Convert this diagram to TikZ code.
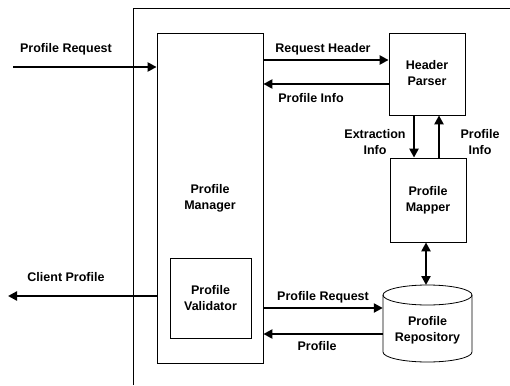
\documentclass[tikz,border=0pt]{standalone}
\usepackage{fontspec}
\setmainfont{Liberation Sans}
\usetikzlibrary{arrows.meta}
\begin{document}
\begin{tikzpicture}[x=1pt,y=-1pt,
  font=\fontsize{12.5}{16}\selectfont\bfseries,
  box/.style={draw, line width=0.8pt, rectangle, inner sep=0pt, align=center},
  arr/.style={line width=2.8pt, -{Triangle[length=9pt,width=9pt]}},
  darr/.style={line width=2.8pt, {Triangle[length=9pt,width=9pt]}-{Triangle[length=9pt,width=9pt]}},
  lbl/.style={inner sep=0pt, align=center}]
\useasboundingbox (0,0) rectangle (510,385);
% outer frame
\draw[line width=0.8pt] (133,385) -- (133,8) -- (510,8);
% boxes
\node[box, minimum width=106pt, minimum height=330pt] (mgr) at (210,198) {Profile\\Manager};
\node[box, minimum width=81pt, minimum height=80pt] (val) at (210.5,298) {Profile\\Validator};
\node[box, minimum width=76pt, minimum height=82pt] (hp) at (427,74) {\raisebox{-4pt}{\begin{tabular}{@{}c@{}}Header\\Parser\end{tabular}}};
\node[box, minimum width=76pt, minimum height=84pt] (mm) at (428,200) {\raisebox{-3pt}{\begin{tabular}{@{}c@{}}Profile\\Mapper\end{tabular}}};
% repository cylinder
\node[rectangle, inner sep=0pt, minimum width=89pt, minimum height=77pt] (repo) at (427.5,323.5) {};
\draw[line width=0.8pt] (427.5,295) ellipse [x radius=44.5pt, y radius=10pt];
\draw[line width=0.8pt] (383,295) -- (383,352) arc[start angle=180, end angle=360, x radius=44.5pt, y radius=10pt] -- (472,295);
\node[lbl] (repotext) at (427.5,330) {Profile\\Repository};
% free ends
\coordinate (in0) at (13,67);
\coordinate (out0) at (8,296);
% connectors
\draw[arr] (in0) -- (mgr.west |- in0);
\node[lbl] (l1) at (66,49) {Profile Request};
\draw[arr] (mgr.east |- 0,60) -- (hp.west |- 0,60);
\node[lbl] (l2) at (323,49) {Request Header};
\draw[arr] (hp.west |- 0,84) -- (mgr.east |- 0,84);
\node[lbl] (l3) at (311,98) {Profile Info};
\draw[arr] (hp.south -| 414,0) -- (mm.north -| 414,0);
\node[lbl] (l4) at (375,142) {Extraction\\Info};
\draw[arr] (mm.north -| 439,0) -- (hp.south -| 439,0);
\node[lbl] (l5) at (480,142) {Profile\\Info};
\draw[darr] (mm.south -| 426,0) -- (426,285);
\draw[arr] (mgr.east |- 0,308) -- (repo.west |- 0,308);
\node[lbl] (l6) at (323,297) {Profile Request};
\draw[arr] (repo.west |- 0,334) -- (mgr.east |- 0,334);
\node[lbl] (l7) at (317,346) {Profile};
\draw[arr] (mgr.west |- out0) -- (out0);
\node[lbl] (l8) at (66,277) {Client Profile};
\end{tikzpicture}
\end{document}
